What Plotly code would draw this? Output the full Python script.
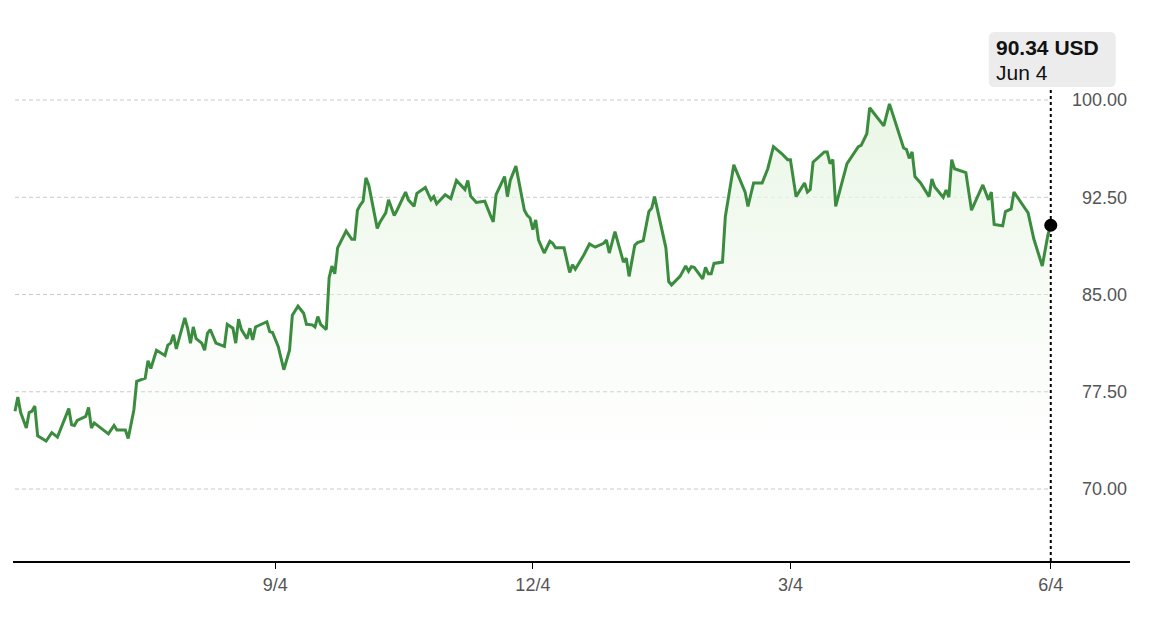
import pandas as pd
import plotly.graph_objects as go

# daily closes, days counted from the first session shown
start_date = "2023-06-04"
day_offsets = [
    0, 1, 2, 4, 5, 6, 7, 8, 11, 13, 15, 17, 19, 20, 21, 22, 25, 26, 27, 28,
    31, 33, 35, 36, 39, 40, 42, 43, 46, 47, 48, 50, 53, 54, 55, 56, 57, 60, 61, 62,
    63, 64, 66, 67, 68, 69, 71, 74, 75, 77, 78, 79, 80, 82, 83, 84, 85, 89, 90, 91,
    93, 95, 97, 98, 100, 102, 103, 105, 106, 107, 108, 110, 111, 112, 113, 114, 117, 119, 120, 121,
    122, 123, 124, 125, 128, 129, 131, 132, 134, 135, 138, 139, 141, 142, 145, 147, 148, 149, 152, 154,
    156, 159, 160, 161, 163, 166, 168, 169, 170, 173, 174, 175, 177, 180, 181, 182, 183, 184, 185, 187,
    189, 190, 191, 194, 196, 197, 198, 201, 203, 205, 208, 209, 210, 212, 215, 216, 217, 219, 220, 222,
    224, 225, 226, 230, 231, 232, 235, 237, 238, 239, 240, 243, 244, 245, 246, 247, 250, 251, 254, 258,
    259, 261, 264, 266, 268, 271, 273, 274, 276, 279, 280, 281, 282, 286, 287, 288, 289, 290, 292, 294,
    298, 299, 301, 302, 307, 309, 314, 315, 316, 317, 318, 320, 323, 324, 325, 328, 329, 330, 331, 332,
    336, 338, 342, 344, 345, 346, 349, 350, 352, 353, 358, 360, 363, 365, 366,
]
prices = [
    76.0, 77.1, 75.9, 74.7, 75.9, 76.0, 76.4, 74.1, 73.7, 74.35, 74.0, 75.1, 76.2, 74.95, 74.9, 75.3, 75.6, 76.3, 74.7, 75.1,
    74.6, 74.25, 74.9, 74.55, 74.55, 73.9, 76.1, 78.3, 78.55, 79.9, 79.3, 80.7, 80.3, 81.1, 81.25, 81.9, 80.8, 83.2, 82.4, 81.25,
    82.5, 81.6, 81.25, 80.7, 82.0, 82.3, 81.25, 81.0, 82.7, 82.4, 81.25, 83.1, 82.3, 81.6, 82.4, 81.5, 82.5, 82.9, 82.15, 82.07,
    81.0, 79.2, 80.7, 83.4, 84.1, 83.56, 82.7, 82.66, 82.5, 83.3, 82.7, 82.3, 86.3, 87.2, 86.6, 88.6, 89.9, 89.26, 89.26, 91.5,
    91.9, 92.2, 94.0, 93.45, 90.1, 90.6, 91.3, 92.3, 91.1, 91.5, 92.9, 92.3, 91.8, 92.8, 93.25, 92.3, 92.55, 92.0, 92.7, 92.4,
    93.8, 93.1, 93.8, 92.6, 92.1, 92.2, 91.1, 90.6, 92.7, 94.1, 92.55, 93.8, 94.9, 91.5, 91.1, 90.9, 90.0, 90.75, 89.2, 88.2,
    89.1, 88.95, 88.6, 88.6, 86.7, 87.3, 86.95, 88.05, 88.9, 88.65, 88.95, 89.2, 88.2, 89.85, 87.5, 87.8, 86.4, 88.8, 89.0, 89.16,
    91.4, 91.66, 92.55, 88.6, 86.0, 85.74, 86.4, 87.2, 86.8, 87.15, 87.1, 86.2, 87.1, 86.6, 86.6, 87.4, 87.5, 91.0, 95.0, 92.9,
    91.8, 93.6, 93.6, 94.7, 96.4, 95.85, 95.4, 95.4, 92.55, 93.6, 92.9, 93.1, 95.2, 96.0, 96.0, 95.1, 95.4, 91.8, 93.45, 95.1,
    96.4, 96.5, 97.4, 99.4, 98.0, 99.7, 96.3, 96.2, 95.5, 96.0, 94.1, 93.6, 92.55, 93.9, 93.3, 92.5, 93.06, 92.5, 95.4, 94.7,
    94.4, 91.5, 93.45, 92.3, 92.9, 90.4, 90.3, 91.4, 91.6, 92.9, 91.3, 89.3, 87.2, 89.6, 90.34,
]
y_ticks = [70.0, 77.5, 85.0, 92.5, 100.0]
x_ticks = ["2023-09-04", "2023-12-04", "2024-03-04", "2024-06-04"]
x_labels = ["9/4", "12/4", "3/4", "6/4"]
currency = "USD"

dates = pd.Timestamp(start_date) + pd.to_timedelta(day_offsets, unit="D")
last_date = dates[-1]
last_price = prices[-1]

LINE = "#3b8c3f"
FONT = "Liberation Sans, Arial, sans-serif"

fig = go.Figure()
fig.add_trace(go.Scatter(
    x=dates, y=prices, mode="lines",
    line=dict(color=LINE, width=3),
    fill="tozeroy",
    fillgradient=dict(type="vertical", start=72, stop=100,
                      colorscale=[[0, "rgba(240,249,237,0)"], [1, "rgba(233,246,229,1)"]]),
    hoverinfo="skip", showlegend=False,
))
fig.add_trace(go.Scatter(
    x=[last_date], y=[last_price], mode="markers",
    marker=dict(color="black", size=13), hoverinfo="skip", showlegend=False,
))

# dashed gridlines stop at the last session
for v in y_ticks:
    fig.add_shape(type="line", xref="x", yref="y", x0=dates[0], x1=last_date, y0=v, y1=v,
                  line=dict(color="#c9c9c9", width=1, dash="4px,3px"), layer="below")

# crosshair at the last point
fig.add_shape(type="line", xref="x", yref="paper", x0=last_date, x1=last_date, y0=0, y1=0.876,
              line=dict(color="black", width=2, dash="3px,3px"))

# tooltip box with rounded corners (pixel offsets from the crosshair top)
r = 6
x0, x1, y0, y1 = -62, 65, -67, -12
path = (f"M {x0 + r},{y1} L {x1 - r},{y1} Q {x1},{y1} {x1},{y1 - r} "
        f"L {x1},{y0 + r} Q {x1},{y0} {x1 - r},{y0} L {x0 + r},{y0} "
        f"Q {x0},{y0} {x0},{y0 + r} L {x0},{y1 - r} Q {x0},{y1} {x0 + r},{y1} Z")
fig.add_shape(type="path", xref="x", yref="paper", xsizemode="pixel", ysizemode="pixel",
              xanchor=last_date, yanchor=1, path=path,
              fillcolor="#ececec", line=dict(width=0))

fig.add_annotation(x=last_date, xref="x", y=1, yref="paper", xanchor="left", yanchor="middle",
                   xshift=-57, yshift=-27, showarrow=False,
                   text=f"<b>{last_price:.2f} {currency}</b>",
                   font=dict(family=FONT, size=21, color="#111111"))
fig.add_annotation(x=last_date, xref="x", y=1, yref="paper", xanchor="left", yanchor="middle",
                   xshift=-57, yshift=-52, showarrow=False,
                   text=f"{last_date:%b} {last_date.day}",
                   font=dict(family=FONT, size=21, color="#111111"))

fig.update_layout(
    width=1151, height=601,
    margin=dict(l=5, r=29, t=12, b=48),
    plot_bgcolor="white", paper_bgcolor="white",
    font=dict(family=FONT),
    hovermode=False,
    xaxis=dict(
        range=[pd.Timestamp(start_date) - pd.Timedelta(hours=17), pd.Timestamp(start_date) + pd.Timedelta(days=394)],
        tickvals=pd.to_datetime(x_ticks), ticktext=x_labels,
        showgrid=False, zeroline=False,
        showline=True, linecolor="black", linewidth=2,
        ticks="outside", ticklen=6, tickwidth=1, tickcolor="black",
        tickfont=dict(size=18, color="#555555"),
    ),
    yaxis=dict(
        range=[64.45, 106.17], side="right",
        tickvals=y_ticks, ticktext=[f"{v:.2f}" for v in y_ticks],
        ticklabelposition="inside", ticks="",
        showgrid=False, zeroline=False, showline=False,
        tickfont=dict(size=18, color="#555555"),
    ),
)

fig.write_html("out.html")
